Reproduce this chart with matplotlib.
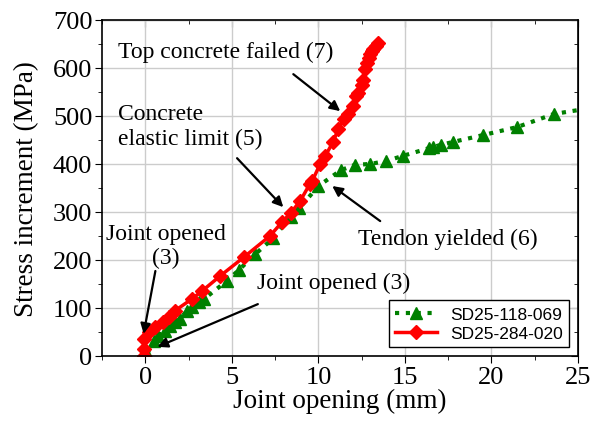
import numpy as np
import matplotlib.pyplot as plt
from matplotlib.ticker import MultipleLocator

plt.rcParams['font.family'] = 'Liberation Serif'

# SD25-118-069 (green triangles)
x_g = [0.1, 0.5, 0.75, 1.15, 1.45, 1.7, 2.0, 2.4, 2.7, 3.1, 3.4, 4.7, 5.4, 6.35,
       7.4, 8.4, 8.9, 10.0, 11.3, 12.1, 13.0, 13.9, 14.9, 16.4, 16.6, 17.1, 17.8,
       19.5, 21.5, 23.6, 26.0]
y_g = [4, 31, 42, 52, 63, 71, 77, 94, 102, 112, 119, 156, 179, 212,
       246, 290, 308, 354, 387, 398, 400, 406, 417, 433, 435, 440, 446,
       460, 477, 504, 518]

# SD25-284-020 (red diamonds)
x_r = [-0.05, -0.05, -0.1, 0.2, 0.55, 1.0, 1.35, 1.7, 2.7, 3.3, 4.3, 5.7, 7.2,
       7.9, 8.4, 8.95, 9.5, 9.65, 10.1, 10.4, 10.85, 11.15, 11.45, 11.7, 12.0,
       12.2, 12.3, 12.5, 12.6, 12.7, 12.8, 12.9, 13.0, 13.1, 13.15, 13.3, 13.45]
y_r = [0, 15, 35, 50, 60, 71, 81, 94, 119, 136, 166, 206, 250,
       279, 298, 323, 358, 365, 400, 417, 446, 473, 494, 505, 521,
       542, 548, 565, 575, 598, 610, 620, 628, 635, 640, 646, 652]

fig = plt.figure(figsize=(6.04, 4.27), dpi=100)
ax = fig.add_axes([0.169, 0.164, 0.788, 0.787])

ax.plot(x_g, y_g, color='green', linestyle=(0, (1, 1.6)), linewidth=3,
        marker='^', markersize=9, label='SD25-118-069')
ax.plot(x_r, y_r, color='red', linewidth=2.5,
        marker='D', markersize=7, label='SD25-284-020')

ax.set_xlim(-2.5, 25)
ax.set_ylim(0, 700)
ax.xaxis.set_major_locator(MultipleLocator(5))
ax.xaxis.set_minor_locator(MultipleLocator(2.5))
ax.yaxis.set_major_locator(MultipleLocator(100))
ax.yaxis.set_minor_locator(MultipleLocator(50))
ax.grid(True, which='major', color='#cccccc', linewidth=1)
ax.set_axisbelow(True)
ax.tick_params(which='both', direction='out', labelsize=19, top=False, right=False, pad=2)
ax.tick_params(which='major', length=5)
ax.tick_params(which='minor', length=3)
ax2 = ax.secondary_xaxis('top')
ax2.xaxis.set_major_locator(MultipleLocator(5))
ax2.xaxis.set_minor_locator(MultipleLocator(2.5))
ax2.tick_params(which='both', direction='in', labeltop=False)
ax2.tick_params(which='major', length=5)
ax2.tick_params(which='minor', length=3)
ay2 = ax.secondary_yaxis('right')
ay2.yaxis.set_major_locator(MultipleLocator(100))
ay2.yaxis.set_minor_locator(MultipleLocator(50))
ay2.tick_params(which='both', direction='in', labelright=False)
ay2.tick_params(which='major', length=5)
ay2.tick_params(which='minor', length=3)
for s in ax.spines.values():
    s.set_linewidth(1.2)

ax.set_xlabel('Joint opening (mm)', fontsize=19.5, labelpad=0)
ax.set_ylabel('Stress increment (MPa)', fontsize=19.5, labelpad=10)

arrow = dict(arrowstyle='-|>', color='black', lw=1.6, mutation_scale=15, shrinkA=0, shrinkB=0)
fs = 17
ax.text(-1.6, 635, 'Top concrete failed (7)', fontsize=fs, ha='left', va='center')
ax.annotate('', xy=(11.26, 510), xytext=(8.55, 587), arrowprops=arrow)
ax.text(-1.6, 479, 'Concrete\nelastic limit (5)', fontsize=fs, ha='left', va='center',
        linespacing=1.2)
ax.annotate('', xy=(7.97, 310), xytext=(5.3, 412), arrowprops=arrow)
ax.text(12.3, 244, 'Tendon yielded (6)', fontsize=fs, ha='left', va='center')
ax.annotate('', xy=(10.8, 354), xytext=(13.57, 281), arrowprops=arrow)
ax.text(1.2, 230, 'Joint opened\n(3)', fontsize=fs, ha='center', va='center',
        linespacing=1.2)
ax.annotate('', xy=(-0.1, 46), xytext=(0.58, 177), arrowprops=arrow)
ax.text(6.47, 154, 'Joint opened (3)', fontsize=fs, ha='left', va='center')
ax.annotate('', xy=(0.7, 19), xytext=(6.5, 108), arrowprops=arrow)

leg = ax.legend(loc='lower right', prop={'family': 'Liberation Sans', 'size': 12.5},
                fancybox=False, edgecolor='black', framealpha=1,
                handlelength=2.4, borderaxespad=0.5, borderpad=0.35, labelspacing=0.25)
leg.get_frame().set_linewidth(1)

fig.savefig('out.png', dpi=100)
